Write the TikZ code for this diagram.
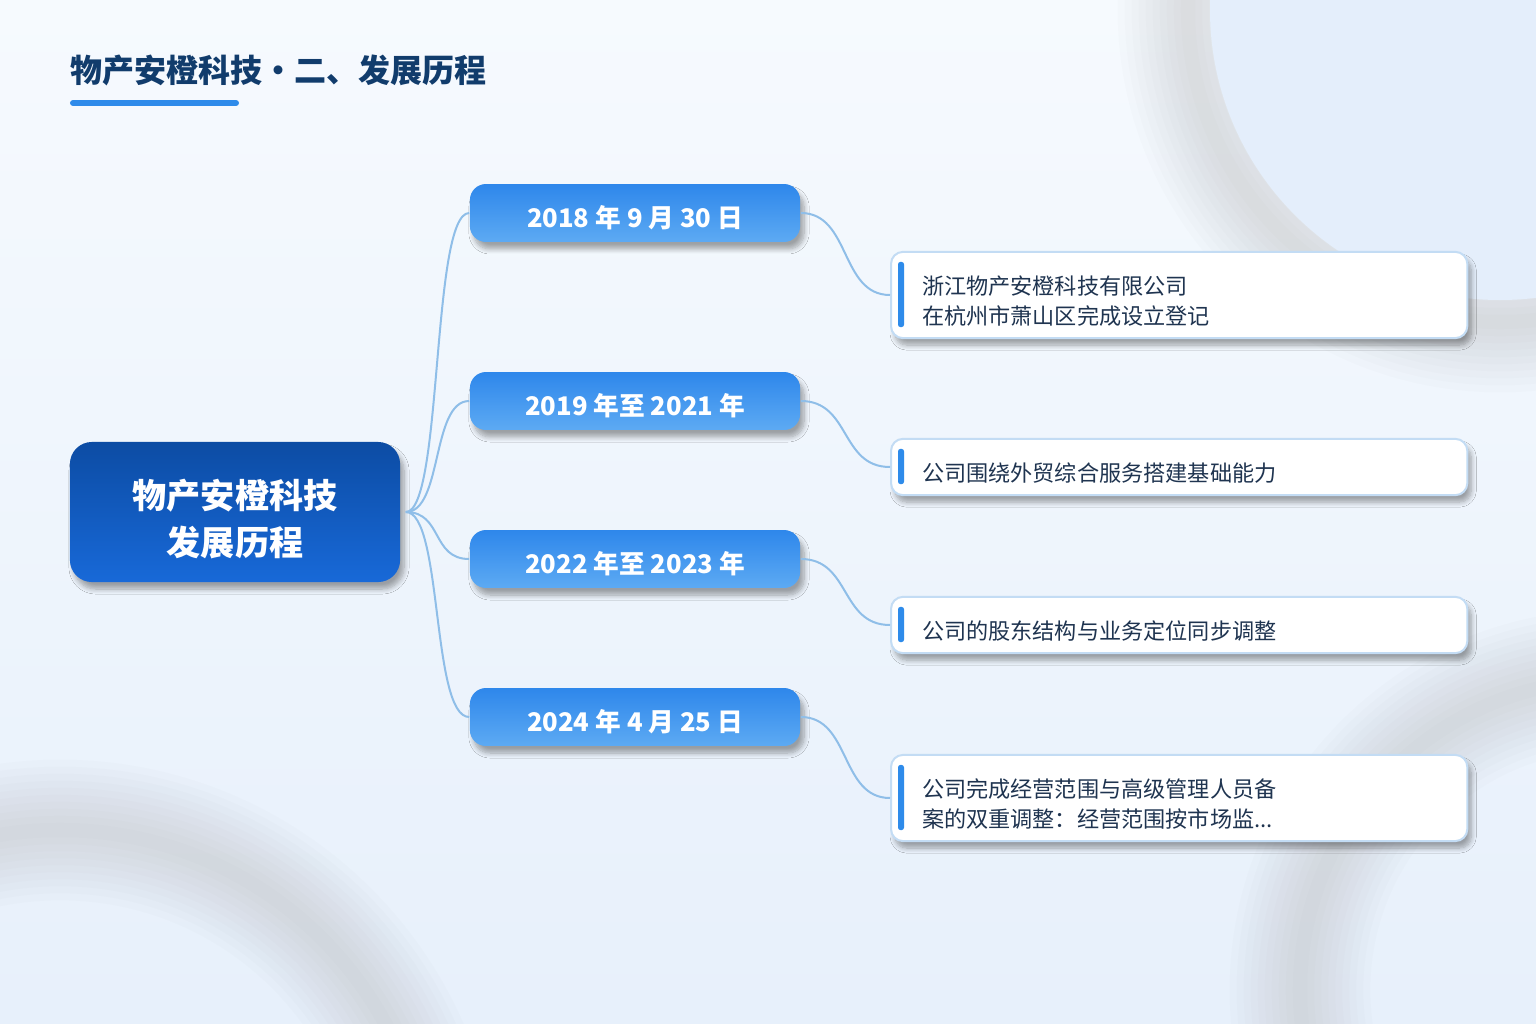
\documentclass[tikz,border=0pt]{standalone}
\usepackage{fontspec}
\setmainfont{Noto Sans CJK SC}
\usetikzlibrary{shadows,shadows.blur,calc}
\definecolor{pagetop}{HTML}{F6FAFE}
\definecolor{pagebot}{HTML}{E7F0FB}
\definecolor{titleink}{HTML}{113C6C}
\definecolor{rootA}{HTML}{0C4CA4}
\definecolor{rootB}{HTML}{1869D8}
\definecolor{dateA}{HTML}{2E87EB}
\definecolor{dateB}{HTML}{5DAAF3}
\definecolor{accent}{HTML}{2E8BEA}
\definecolor{twig}{HTML}{8FBEE8}
\definecolor{rim}{HTML}{C3DCF4}
\definecolor{ink}{HTML}{1F3450}
\definecolor{disc}{HTML}{E4EEFB}
\newcommand\softring[2]{%
  \foreach \w in {40,36,...,4}
    \draw[black!45, opacity=0.022, line width=\w pt] #1 circle (#2);}
\newcommand\lineup[1]{\rule{0pt}{#1em}}

\begin{document}
\begin{tikzpicture}[x=0.01cm, y=-0.01cm,
    boxshadow/.style={blur shadow={shadow xshift=0.04cm, shadow yshift=-0.07cm, shadow blur radius=0.05cm, shadow opacity=35, shadow blur steps=8}},
    rootbox/.style={rectangle, rounded corners=0.22cm, minimum width=3.3cm, minimum height=1.4cm,
      top color=rootA, bottom color=rootB, draw=none, text=white, align=center,
      font=\bfseries\fontsize{9.7pt}{13.4pt}\selectfont, boxshadow},
    datebox/.style={rectangle, rounded corners=0.16cm, minimum width=3.3cm, minimum height=0.56cm,
      top color=dateA, bottom color=dateB, draw=none, text=white,
      font=\bfseries\fontsize{7.3pt}{9pt}\selectfont,
      execute at begin node={\lineup{1.25}}, boxshadow},
    eventbox/.style={rectangle, rounded corners=0.12cm, draw=rim, line width=0.02cm, fill=white,
      inner xsep=0.31cm, text width=5.14cm, align=left, anchor=west, text=ink,
      font=\fontsize{6.3pt}{8.5pt}\selectfont,
      execute at begin node={\lineup{1.4}}, boxshadow},
    twigline/.style={draw=twig, line width=0.02cm},
]
\useasboundingbox (0,0) rectangle (1536,1024);
\shade[top color=pagetop, bottom color=pagebot] (0,0) rectangle (1536,1024);
\begin{scope}
  \clip (0,0) rectangle (1536,1024);
  \softring{(1500,10)}{312}
  \fill[disc] (1500,10) circle (290);
  \softring{(60,1200)}{370}
  \softring{(1610,990)}{310}
\end{scope}

\node[anchor=west, text=titleink, font=\bfseries\fontsize{9.1pt}{11pt}\selectfont, inner sep=0pt] (title) at (70,70) {物产安橙科技・二、发展历程};
\draw[accent, line width=0.06cm, line cap=round] (73,103) -- (236,103);

\node[rootbox] (root) at (235,512) {\lineup{1.3}物产安橙科技\\发展历程};

\node[datebox] (d1) at (635,213) {2018 年 9 月 30 日};
\node[datebox] (d2) at (635,401) {2019 年至 2021 年};
\node[datebox] (d3) at (635,559) {2022 年至 2023 年};
\node[datebox] (d4) at (635,717) {2024 年 4 月 25 日};

\node[eventbox, minimum height=0.81cm] (e1) at (890,295) {浙江物产安橙科技有限公司\\在杭州市萧山区完成设立登记};
\node[eventbox, minimum height=0.51cm] (e2) at (890,467) {公司围绕外贸综合服务搭建基础能力};
\node[eventbox, minimum height=0.51cm] (e3) at (890,625) {公司的股东结构与业务定位同步调整};
\node[eventbox, minimum height=0.81cm] (e4) at (890,798) {公司完成经营范围与高级管理人员备\\案的双重调整：经营范围按市场监...};

\foreach \n in {1,2,3,4}{
  \draw[twigline] ($(root.east)+(5,0)$) .. controls ($(root.east)+(42,0)$) and ($(d\n.west)+(-38,0)$) .. (d\n.west);
  \draw[twigline] (d\n.east) .. controls ($(d\n.east)+(50,0)$) and ($(e\n.west)+(-50,0)$) .. (e\n.west);
  \fill[accent, rounded corners=0.025cm] ($(e\n.north west)+(8,11)$) rectangle ($(e\n.south west)+(14,-12)$);
}
\end{tikzpicture}
\end{document}
